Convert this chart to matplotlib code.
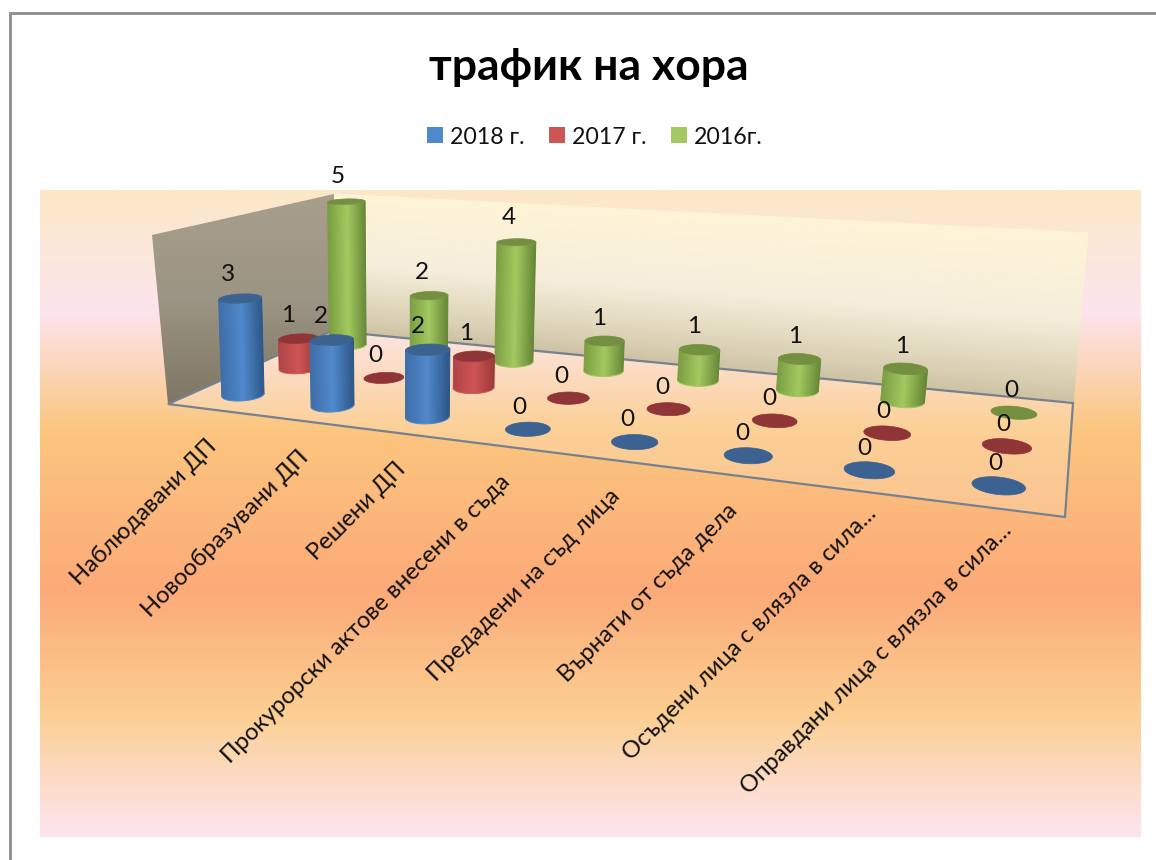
"""
3D cylinder chart "трафик на хора", drawn on a flat pixel axes with a small perspective projection.
"""

import numpy as np
import matplotlib
matplotlib.use("Agg")
import matplotlib.pyplot as plt
from matplotlib.colors import LinearSegmentedColormap
from matplotlib.patches import Patch, Polygon

plt.rcParams['font.family'] = ['Lato', 'Noto Sans', 'DejaVu Sans']

title = "трафик на хора"
categories = ["Наблюдавани ДП", "Новообразувани ДП", "Решени ДП",
              "Прокурорски актове внесени в съда", "Предадени на съд лица",
              "Върнати от съда дела", "Осъдени лица с влязла в сила...",
              "Оправдани лица с влязла в сила..."]
series_names = ["2018 г.", "2017 г.", "2016г."]
values_2018 = [3, 2, 2, 0, 0, 0, 0, 0]
values_2017 = [1, 0, 1, 0, 0, 0, 0, 0]
values_2016 = [5, 2, 4, 1, 1, 1, 1, 0]
all_values = [values_2018, values_2017, values_2016]
axis_max = 5

# look of the columns: left edge, middle, right edge, top cap
blue_shades = ["#3f6fa8", "#5089cc", "#2c5686", "#3b6291"]
red_shades = ["#b0444a", "#cf5553", "#9c3a3a", "#8f3537"]
green_shades = ["#7c9e42", "#a3c960", "#668636", "#738f3f"]
all_shades = [blue_shades, red_shades, green_shades]

bg_stops = [(190, "#fbe7c6"), (240, "#fbe8d8"), (310, "#fde4ee"), (430, "#fbc67f"),
            (590, "#fcaa78"), (715, "#fbcf92"), (837, "#fde5f0")]
back_wall_stops = [(0, "#cdc2a3"), (0.15, "#dcd2b6"), (0.49, "#f6eedb"), (1, "#fef3d6")]

# pixel corners of the 3D box
floor_fl, floor_fr, floor_br, floor_bl = (168, 404), (1065, 517), (1073, 403), (332, 331)
top_fl, top_bl, top_br = (152, 235), (334, 194), (1088, 233)
# the columns lean a little differently from what the wall corners say
top_fl_fit, top_bl_fit = (140, 235), (352, 197)


def fit_projection():
    (x0, y0), (x1, y1), (x2, y2), (x3, y3) = floor_fl, floor_fr, floor_br, floor_bl
    dx1, dx2, sx = x1 - x2, x3 - x2, x0 - x1 + x2 - x3
    dy1, dy2, sy = y1 - y2, y3 - y2, y0 - y1 + y2 - y3
    den = dx1 * dy2 - dx2 * dy1
    g = (sx * dy2 - dx2 * sy) / den
    h = (dx1 * sy - sx * dy1) / den
    a, b, c = x1 - x0 + g * x1, x3 - x0 + h * x3, x0
    d, e, f = y1 - y0 + g * y1, y3 - y0 + h * y3, y0
    # height column from the three wall top corners
    rows, rhs = [], []
    for (px, py), (u, v) in [(top_fl_fit, (0, 0)), (top_bl_fit, (0, 1)), (top_br, (1, 1))]:
        rows.append([1, 0, -px])
        rhs.append(px * (g * u + h * v + 1) - (a * u + b * v + c))
        rows.append([0, 1, -py])
        rhs.append(py * (g * u + h * v + 1) - (d * u + e * v + f))
    p, q, r = np.linalg.lstsq(np.array(rows, float), np.array(rhs, float), rcond=None)[0]
    return np.array([[a, b, p, c], [d, e, q, f], [g, h, r, 1.0]])


M = fit_projection()


def project(cat, ser, val):
    """cat in 0..8, ser in 0..3, val in 0..axis_max -> pixel x, y"""
    u = np.asarray(cat, float) / len(categories)
    v = np.asarray(ser, float) / len(series_names)
    w = np.asarray(val, float) / axis_max
    pts = [M[i, 0] * u + M[i, 1] * v + M[i, 2] * w + M[i, 3] for i in range(3)]
    return pts[0] / pts[2], pts[1] / pts[2]


def gradient_patch(ax, xy, stops, zorder):
    """Fill a polygon with a vertical gradient; stops are (pixel y, colour)."""
    ys = [s[0] for s in stops]
    y_lo, y_hi = ys[0], ys[-1]
    cmap = LinearSegmentedColormap.from_list("g", [((s[0] - y_lo) / (y_hi - y_lo), s[1]) for s in stops])
    xs = [p[0] for p in xy]
    im = ax.imshow(np.linspace(0, 1, 400)[:, None], cmap=cmap, aspect="auto", zorder=zorder,
                   extent=(min(xs), max(xs), y_hi, y_lo))
    clip = Polygon(xy, closed=True, transform=ax.transData, fc="none", ec="none")
    ax.add_patch(clip)
    im.set_clip_path(clip)


def draw_back_wall(ax):
    # gradient runs along the wall height, so it tilts with the floor line
    cmap = LinearSegmentedColormap.from_list("w", back_wall_stops)
    w = np.linspace(0, 1, 40)[:, None]
    left_x, left_y = floor_bl[0] + (top_bl[0] - floor_bl[0]) * w, floor_bl[1] + (top_bl[1] - floor_bl[1]) * w
    right_x, right_y = floor_br[0] + (top_br[0] - floor_br[0]) * w, floor_br[1] + (top_br[1] - floor_br[1]) * w
    ax.pcolormesh(np.hstack([left_x, right_x]), np.hstack([left_y, right_y]), np.hstack([w, w]),
                  shading="gouraud", cmap=cmap, zorder=2)


def draw_cylinder(ax, cat, ser, val, shades, zorder):
    t = np.linspace(0, 2 * np.pi, 121)
    radius = 0.2
    cc, ss = cat + radius * np.cos(t), ser + radius * np.sin(t)
    bx, by = project(cc, ss, 0)
    tx, ty = project(cc, ss, val)
    if val > 0:
        left, right = np.argmin(bx), np.argmax(bx)
        chord = by[left] + (by[right] - by[left]) * (bx - bx[left]) / (bx[right] - bx[left])
        front = np.where(by[:-1] >= chord[:-1])[0]
        front = front[np.argsort(bx[front])]
        cmap = LinearSegmentedColormap.from_list("c", [(0, shades[0]), (0.5, shades[1]), (1, shades[2])])
        # shade across the body row by row, the body can lean
        x0, x1 = min(bx.min(), tx.min()) - 1, max(bx.max(), tx.max()) + 1
        y0, y1 = min(by.min(), ty.min()) - 1, max(by.max(), ty.max()) + 1
        gx, gy = np.meshgrid(np.linspace(x0, x1, 200), np.linspace(y0, y1, 200))
        k = np.clip((by[left] - gy) / (by[left] - ty[left]), -1, 2)
        edge_l = bx[left] + (tx[left] - bx[left]) * k
        edge_r = bx[right] + (tx[right] - bx[right]) * k
        im = ax.imshow(np.clip((gx - edge_l) / (edge_r - edge_l), 0, 1), cmap=cmap, vmin=0, vmax=1, aspect="auto",
                       extent=(x0, x1, y1, y0), origin="upper", zorder=zorder)
        outline = np.vstack([np.column_stack([bx[front], by[front]]),
                             np.column_stack([tx[front], ty[front]])[::-1]])
        clip = Polygon(outline, closed=True, transform=ax.transData, fc="none", ec="none")
        ax.add_patch(clip)
        im.set_clip_path(clip)
        # soften the clip edges
        ax.plot(bx[front], by[front], color=shades[1], lw=0.7, zorder=zorder)
        ax.plot([bx[front[0]], tx[front[0]]], [by[front[0]], ty[front[0]]], color=shades[0], lw=0.7, zorder=zorder)
        ax.plot([bx[front[-1]], tx[front[-1]]], [by[front[-1]], ty[front[-1]]], color=shades[2], lw=0.7, zorder=zorder)
    ax.add_patch(Polygon(np.column_stack([tx, ty]), closed=True, fc=shades[3], ec=shades[3], lw=0.5, zorder=zorder + 0.1))


fig = plt.figure(figsize=(11.56, 8.6), dpi=100)
ax = fig.add_axes([0, 0, 1, 1])

# chart area background
gradient_patch(ax, [(40, 190), (1141, 190), (1141, 837), (40, 837)], bg_stops, 1)

# walls and floor
n_cat, n_ser = len(categories), len(series_names)
draw_back_wall(ax)
gradient_patch(ax, [top_fl, top_bl, floor_bl, floor_fl], [(194, "#a89e8c"), (300, "#9c9484"), (404, "#7f7663")], 2.5)
ax.add_patch(Polygon([floor_fl, floor_fr, floor_br, floor_bl], closed=True, fc=(1, 1, 1, 0.18), ec="#76828f", lw=1.6, zorder=3))

# columns from back to front
for s in range(n_ser - 1, -1, -1):
    for c in range(n_cat):
        draw_cylinder(ax, c + 0.5, s + 0.5, all_values[s][c], all_shades[s], 4 + (n_ser - s) + c * 0.01)

# data labels
for s in range(n_ser):
    for c in range(n_cat):
        val = all_values[s][c]
        x, y = project(c + 0.5, s + 0.5, val)
        ax.text(x - 12 + 1.2 * c + s * (2.5 - 0.3 * c) - 0.2 * s * val, y - 22 - 0.7 * val, str(val), ha="center", va="center",
                fontsize=17.5, color="#111111", zorder=10)

# category labels
for c, name in enumerate(categories):
    x, y = project(c + 0.5, 0, 0)
    nudge = 13 if name.endswith("...") else 0
    ax.text(x + 1 + nudge, y + 33 - 0.2 * c - nudge, name, rotation=45, rotation_mode="anchor", ha="right", va="center",
            fontsize=17.2, color="#111111", zorder=10)

ax.text(589, 67, title, ha="center", va="center", fontsize=32, fontweight="bold", color="black", zorder=10)

handles = [Patch(facecolor=shades[1], edgecolor="none", label=name) for shades, name in zip(all_shades, series_names)]
ax.legend(handles=handles, ncol=3, loc="center", bbox_to_anchor=(595, 137), bbox_transform=ax.transData, frameon=False,
          fontsize=16.7, handlelength=0.69, handleheight=0.69, handletextpad=0.3, columnspacing=1.06, labelcolor="#111111")

# outer frame, only top and left are in the picture
ax.plot([10, 10, 1156], [860, 13, 13], color="#8c8c8c", lw=2, zorder=11, solid_joinstyle="miter")

ax.set_xlim(0, 1156)
ax.set_ylim(860, 0)
ax.axis("off")
fig.savefig("out.png", dpi=100, facecolor="white")
